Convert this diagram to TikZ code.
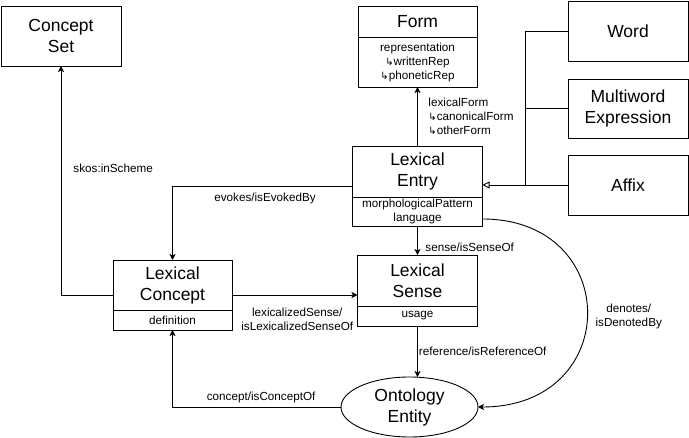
\documentclass[tikz,border=0pt]{standalone}
\usepackage{fontspec}
\setmainfont{Liberation Sans}
\newfontfamily\arrowfont{DejaVu Sans}
\usepackage{tikz}
\usetikzlibrary{positioning,fit,arrows.meta,shapes.geometric}

\newcommand{\titlesize}{\fontsize{17.5}{21}\selectfont}
\newcommand{\smallsize}{\fontsize{11.7}{14}\selectfont}
\newcommand{\hk}{{\arrowfont\fontsize{10}{10}\selectfont ↳}}

\begin{document}
\begin{tikzpicture}
			[x=1pt,y=-1pt,line width=0.9pt,
			%Styles
			class title/.style={draw,outer sep=0pt,inner sep=0pt,align=center,font=\titlesize},
			class attr/.style={draw,outer sep=0pt,inner sep=0pt,align=center,font=\smallsize},
			whole/.style={fit=#1,inner sep=0pt,outer sep=0pt},
			entity/.style={draw,ellipse,inner sep=0pt,outer sep=0pt,align=center,font=\titlesize,
				minimum width=137,minimum height=60},
			rel label/.style={inner sep=0pt,font=\smallsize},
			rel/.style={-{Stealth[length=6pt,width=6pt,inset=1.5pt]}},
			inherit/.style={-{Triangle[open,length=7pt,width=7pt]}}
			]
			\useasboundingbox (0,0) rectangle (689,438);
			
			%The classes
			\node[class title,minimum width=120,minimum height=60] (cset) at (61,36) {Concept\\Set};
			
			\node[class title,minimum width=119,minimum height=31] (form-t) at (417.5,21.5) {Form};
			\node[class attr,minimum width=119,minimum height=50,below=0pt of form-t] (form-a)
				{representation\\\hk writtenRep\\ \hk phoneticRep};
			\node[whole={(form-t)(form-a)}] (form) {};
			
			\node[class title,minimum width=120,minimum height=60] (word) at (628,31) {Word};
			\node[class title,minimum width=120,minimum height=59] (mwe) at (628,108.5) {Multiword\\Expression};
			\node[class title,minimum width=120,minimum height=60] (affix) at (628,185) {Affix};
			
			\node[class title,minimum width=130,minimum height=51] (entry-t) at (417.5,171.5) {Lexical\\Entry};
			\node[class attr,minimum width=130,minimum height=29,below=0pt of entry-t] (entry-a)
				{morphologicalPattern\\language};
			\node[whole={(entry-t)(entry-a)}] (entry) {};
			
			\node[class title,minimum width=120,minimum height=51] (sense-t) at (417.5,280.5) {Lexical\\Sense};
			\node[class attr,minimum width=120,minimum height=20,below=0pt of sense-t] (sense-a) {usage};
			\node[whole={(sense-t)(sense-a)}] (sense) {};
			
			\node[class title,minimum width=119,minimum height=50] (lconcept-t) at (172.5,285) {Lexical\\Concept};
			\node[class attr,minimum width=119,minimum height=20,below=0pt of lconcept-t] (lconcept-a) {definition};
			\node[whole={(lconcept-t)(lconcept-a)}] (lconcept) {};
			
			\node[entity] (onto) at (409.5,407) {Ontology\\Entity};
			
			\coordinate (junc) at (525,185);
			
			%The relations
			\draw[rel] (entry.north) -- (form.south)
				node[rel label,midway,anchor=west,xshift=10.5,align=left]
				{lexicalForm\\\hk canonicalForm\\\hk otherForm};
			\draw[rel] (entry.south) -- (sense.north)
				node[rel label,pos=0.72,anchor=west,xshift=7.5] {sense/isSenseOf};
			\draw[rel] (sense.south) -- (sense.south |- onto.north)
				node[rel label,midway,anchor=west,xshift=1] {reference/isReferenceOf};
			\draw[rel] (lconcept.east) -- (lconcept.east -| sense.west)
				node[rel label,midway,yshift=-24pt,xshift=2.5pt,align=center]
				{lexicalizedSense/\\isLexicalizedSenseOf};
			\draw[rel] (lconcept.west) -| (cset.south)
				node[rel label,pos=0.777,anchor=west,xshift=12] {skos:inScheme};
			\draw[rel] (entry.west) -| (lconcept.north)
				node[rel label,pos=0.243,yshift=-12pt] {evokes/isEvokedBy};
			\draw[rel] (onto.west) -| (lconcept.south)
				node[rel label,pos=0.237,yshift=10pt] {concept/isConceptOf};
			\draw[rel] ([yshift=7pt]entry-a.south east) .. controls +(140,0) and +(145,0) .. (onto.east)
				node[rel label,pos=0.5,anchor=west,xshift=8,yshift=-3pt,align=center] {denotes/\\isDenotedBy};
			
			\draw[inherit] (affix.west) -- (affix.west -| entry.east);
			\draw (word.west) -| (junc);
			\draw (mwe.west) -| (junc);
		\end{tikzpicture}
\end{document}
